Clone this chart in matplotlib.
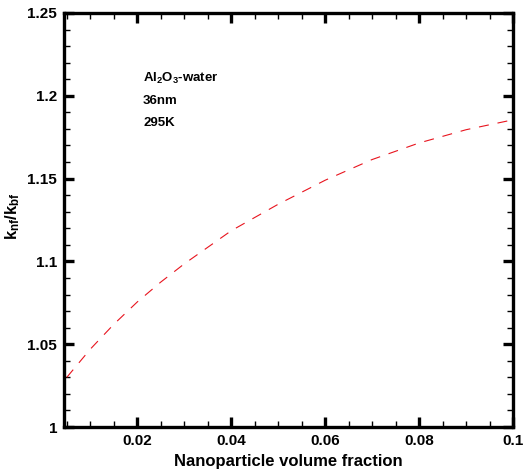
import matplotlib
matplotlib.use("Agg")
import matplotlib.pyplot as plt
from matplotlib.ticker import MultipleLocator, FuncFormatter

plt.rcParams['font.family'] = ['Liberation Sans', 'DejaVu Sans']
plt.rcParams['font.weight'] = 'bold'
plt.rcParams['mathtext.fontset'] = 'custom'
plt.rcParams['mathtext.rm'] = 'Liberation Sans:bold'
plt.rcParams['mathtext.it'] = 'Liberation Sans:bold'
plt.rcParams['mathtext.bf'] = 'Liberation Sans:bold'

phi = [0.005, 0.01, 0.015, 0.02, 0.025, 0.03, 0.04, 0.05, 0.06, 0.07, 0.08, 0.09, 0.1]
k_ratio = [1.030, 1.047, 1.062, 1.0755, 1.0875, 1.0985, 1.1185, 1.1345, 1.149, 1.1615, 1.1715, 1.1795, 1.1855]

fig = plt.figure(figsize=(5.24, 4.72), dpi=100)
ax = fig.add_axes([0.1221, 0.0953, 0.8569, 0.8772])

ax.plot(phi, k_ratio, color='#e8141e', lw=0.8, linestyle=(0, (9, 8)))

ax.set_xlim(0.0044, 0.1)
ax.set_ylim(1.0, 1.25)

ax.xaxis.set_major_locator(MultipleLocator(0.02))
ax.xaxis.set_minor_locator(MultipleLocator(0.005))
ax.yaxis.set_major_locator(MultipleLocator(0.05))
ax.yaxis.set_minor_locator(MultipleLocator(0.01))

def fmt(v, pos):
    return f"{v:.2f}".rstrip('0').rstrip('.')
ax.xaxis.set_major_formatter(FuncFormatter(fmt))
ax.yaxis.set_major_formatter(FuncFormatter(fmt))

for s in ax.spines.values():
    s.set_linewidth(2.4)

ax.tick_params(which='major', direction='in', length=7, width=2.4, top=True, right=True,
               labelsize=11, pad=5)
ax.tick_params(which='minor', direction='in', length=4, width=1.0, top=True, right=True)

ax.set_xlabel('Nanoparticle volume fraction', fontsize=12, fontweight='bold', labelpad=4)
ax.set_ylabel(r'k$_{\mathregular{nf}}$/k$_{\mathregular{bf}}$', fontsize=12, fontweight='bold')
ax.yaxis.set_label_coords(-0.094, 0.51)

ax.text(0.176, 0.843, r'Al$_{\mathregular{2}}$O$_{\mathregular{3}}$-water', transform=ax.transAxes,
        fontsize=9.5, fontweight='bold', va='center', ha='left')
ax.text(0.176, 0.787, '36nm', transform=ax.transAxes, fontsize=9.5, fontweight='bold', va='center', ha='left')
ax.text(0.176, 0.735, '295K', transform=ax.transAxes, fontsize=9.5, fontweight='bold', va='center', ha='left')

fig.savefig('out.png', dpi=100)
